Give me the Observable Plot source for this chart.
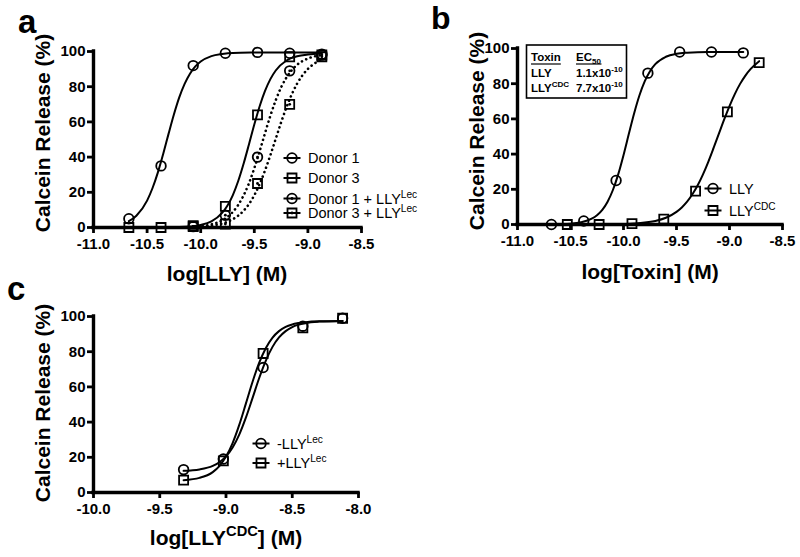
<!DOCTYPE html>
<html>
<head>
<meta charset="utf-8">
<script src="https://cdn.jsdelivr.net/npm/d3@7"></script>
<script src="https://cdn.jsdelivr.net/npm/@observablehq/plot@0.6"></script>
<style>
html,body{margin:0;padding:0;background:#fff;}
#fig{position:relative;width:800px;height:557px;overflow:hidden;background:#fff;}
#fig svg{position:absolute;overflow:visible;}
</style>
</head>
<body>
<div id="fig"></div>
<script>
const FONT = "'Liberation Sans', Arial, Helvetica, sans-serif";

// ---------- shared ticks ----------
const yTicks = [0, 20, 40, 60, 80, 100];
const xTicksA = [-11, -10.5, -10, -9.5, -9, -8.5];
const xTicksB = [-11, -10.5, -10, -9.5, -9, -8.5];
const xTicksC = [-10, -9.5, -9, -8.5, -8];

// ---------- panel a: measured points ----------
const logA = [-10.67, -10.37, -10.07, -9.77, -9.47, -9.17, -8.87];
const donor1 = [5, 35, 92, 99, 99.5, 99, 98.5];
const donor3 = [0, 0, 1, 12, 64, 97, 98];
const logALec = [-10.07, -9.77, -9.47, -9.17, -8.87];
const donor1Lec = [0.5, 7, 40, 89, 98];
const donor3Lec = [0.5, 2, 25, 70, 97];

// panel a: fitted curves
const fitXD1 = [-10.67, -10.6, -10.5, -10.45, -10.4, -10.35, -10.3, -10.25, -10.2, -10.15, -10.1, -10.05, -10.0, -9.9, -9.8, -9.7, -9.5, -9.2, -8.87];
const fitYD1 = [3.6, 6.7, 15.3, 22.3, 31.2, 41.8, 53.2, 64.2, 73.9, 81.6, 87.4, 91.5, 94.3, 97.4, 98.6, 99.2, 99.4, 99.5, 99.5];
const fitXD3 = [-10.67, -10.4, -10.2, -10.1, -10.0, -9.9, -9.8, -9.75, -9.7, -9.65, -9.6, -9.55, -9.5, -9.45, -9.4, -9.35, -9.3, -9.2, -9.1, -9.0, -8.87];
const fitYD3 = [0, 0.04, 0.23, 0.57, 1.41, 3.47, 8.28, 12.5, 18.45, 26.4, 36.2, 47.2, 58.5, 68.9, 77.6, 84.3, 89.2, 94.9, 97.3, 98.3, 98.8];
const fitXD1L = [-10.07, -9.9, -9.8, -9.7, -9.65, -9.6, -9.55, -9.5, -9.45, -9.4, -9.35, -9.3, -9.25, -9.2, -9.1, -9.0, -8.87];
const fitYD1L = [0.45, 1.82, 4.07, 8.85, 12.8, 18.2, 25.1, 33.7, 43.4, 53.6, 63.5, 72.3, 79.6, 85.2, 92.5, 96.0, 98.0];
const fitXD3L = [-10.07, -9.9, -9.8, -9.7, -9.6, -9.55, -9.5, -9.45, -9.4, -9.35, -9.3, -9.25, -9.2, -9.15, -9.1, -9.0, -8.95, -8.87];
const fitYD3L = [0.3, 1.07, 2.25, 4.69, 9.51, 13.3, 18.3, 24.7, 32.4, 41.1, 50.4, 59.7, 68.3, 75.7, 81.8, 90.1, 92.7, 95.5];

// ---------- panel b ----------
const logLLY = [-10.68, -10.375, -10.07, -9.77, -9.47, -9.17, -8.87];
const lly = [0, 2, 25, 86, 98, 98, 97.5];
const logCDC = [-10.53, -10.23, -9.92, -9.62, -9.32, -9.02, -8.72];
const cdc = [0, 0, 0.5, 3, 19, 64, 92];
const fitXLLY = [-10.68, -10.5, -10.4, -10.3, -10.25, -10.2, -10.15, -10.1, -10.05, -10.0, -9.95, -9.9, -9.85, -9.8, -9.75, -9.7, -9.6, -9.5, -9.4, -9.2, -8.87];
const fitYLLY = [0.08, 0.46, 1.24, 3.27, 5.25, 8.33, 12.96, 19.6, 28.5, 39.4, 51.4, 63.1, 73.3, 81.3, 87.1, 91.1, 95.3, 97.0, 97.6, 98.0, 98.0];
const fitXCDC = [-10.53, -10.3, -10.1, -9.9, -9.8, -9.7, -9.6, -9.5, -9.45, -9.4, -9.35, -9.3, -9.25, -9.2, -9.15, -9.1, -9.05, -9.0, -8.95, -8.9, -8.85, -8.8, -8.72];
const fitYCDC = [0.01, 0.04, 0.15, 0.56, 1.07, 2.04, 3.86, 7.19, 9.7, 12.97, 17.15, 22.3, 28.5, 35.65, 43.5, 51.6, 59.7, 67.3, 74.1, 79.9, 84.6, 88.4, 92.8];
const ecHeader = [[["Toxin"]], [["EC"], ["50", "sub"]]];
const ecToxins = [[["LLY"]], [["LLY"], ["CDC", "sup"]]];
const ecValues = [[["1.1x10"], ["-10", "sup"]], [["7.7x10"], ["-10", "sup"]]];

// ---------- panel c ----------
const logC = [-9.32, -9.02, -8.72, -8.42, -8.12];
const minusLec = [13, 19, 71, 94.5, 99];
const plusLec = [7, 18, 79, 93.5, 99];
const fitXC = [-9.32, -9.2, -9.1, -9.05, -9.0, -8.95, -8.9, -8.85, -8.8, -8.75, -8.7, -8.65, -8.6, -8.55, -8.5, -8.4, -8.3, -8.12];
const fitYMinus = [12.3, 13.1, 15.1, 17.2, 20.5, 25.6, 32.9, 42.5, 53.6, 64.9, 74.8, 82.6, 88.1, 91.7, 94.0, 96.3, 97.1, 97.5];
const fitYPlus = [7.0, 8.3, 11.6, 15.0, 20.4, 28.1, 38.4, 50.5, 62.8, 73.6, 82.0, 87.9, 91.7, 94.1, 95.5, 96.8, 97.3, 97.5];

// ---------- legends ----------
const legendA = [
  {label: [["Donor 1"]], symbol: "circle", dot: false},
  {label: [["Donor 3"]], symbol: "square", dot: false},
  {label: [["Donor 1 + LLY"], ["Lec", "sup"]], symbol: "circle", dot: true},
  {label: [["Donor 3 + LLY"], ["Lec", "sup"]], symbol: "square", dot: true}
];
const legendB = [
  {label: [["LLY"]], symbol: "circle", dot: false},
  {label: [["LLY"], ["CDC", "sup"]], symbol: "square", dot: false}
];
const legendC = [
  {label: [["-LLY"], ["Lec", "sup"]], symbol: "circle", dot: false},
  {label: [["+LLY"], ["Lec", "sup"]], symbol: "square", dot: false}
];

// ---------- helpers ----------
const fig = document.getElementById("fig");
const pts = (xs, ys) => xs.map((x, i) => ({x, y: ys[i]}));

const axisStyle = {tickSize: 6, strokeWidth: 2.8, fontSize: 15, fontWeight: "bold", label: null};
function axes(xTicks) {
  return [
    Plot.axisX(xTicks, {...axisStyle, tickPadding: 5, tickFormat: d => d.toFixed(1)}),
    Plot.axisY(yTicks, {...axisStyle, tickPadding: 2, tickFormat: d => String(d)}),
    Plot.ruleY([yTicks[0]], {x1: xTicks[0], x2: xTicks[xTicks.length - 1], strokeWidth: 3.4, strokeLinecap: "square"}),
    Plot.ruleX([xTicks[0]], {y1: yTicks[0], y2: yTicks[yTicks.length - 1], strokeWidth: 3.4, strokeLinecap: "square"})
  ];
}
const solid = (xs, ys) => Plot.line(pts(xs, ys), {x: "x", y: "y", curve: "monotone-x", stroke: "black", strokeWidth: 2});
const dotted = (xs, ys) => Plot.line(pts(xs, ys), {x: "x", y: "y", curve: "monotone-x", stroke: "black", strokeWidth: 2.6, strokeDasharray: "0.1 4.6", strokeLinecap: "round"});
function syms(xs, ys, symbol, withDot) {
  const d = pts(xs, ys);
  const m = [Plot.dot(d, {x: "x", y: "y", symbol, r: symbol === "square" ? 5.1 : 4.8, stroke: "black", strokeWidth: 1.8, fill: "none"})];
  if (withDot) m.push(Plot.dot(d, {x: "x", y: "y", r: 1.4, fill: "black", stroke: "none"}));
  return m;
}

function panel({left, top, width, height, xTicks, mL, mR, mT, mB, marks}) {
  const svg = Plot.plot({
    width, height,
    marginLeft: mL, marginRight: mR, marginTop: mT, marginBottom: mB,
    x: {domain: [xTicks[0], xTicks[xTicks.length - 1]]},
    y: {domain: [yTicks[0], yTicks[yTicks.length - 1]]},
    style: {fontFamily: FONT, fontSize: "15px", fontWeight: "bold", background: "none", color: "black", overflow: "visible"},
    marks: [...axes(xTicks), ...marks]
  });
  svg.style.position = "absolute";
  svg.style.left = left + "px";
  svg.style.top = top + "px";
  fig.appendChild(svg);
}

// ---------- panel a ----------
panel({
  left: 0, top: 0, width: 400, height: 300, xTicks: xTicksA, mL: 93, mR: 39, mT: 51, mB: 73,
  marks: [
    solid(fitXD1, fitYD1), solid(fitXD3, fitYD3),
    dotted(fitXD1L, fitYD1L), dotted(fitXD3L, fitYD3L),
    ...syms(logA, donor1, "circle", false), ...syms(logA, donor3, "square", false),
    ...syms(logALec, donor1Lec, "circle", true), ...syms(logALec, donor3Lec, "square", true)
  ]
});

// ---------- panel b ----------
panel({
  left: 400, top: 0, width: 400, height: 300, xTicks: xTicksB, mL: 117, mR: 18, mT: 48, mB: 76,
  marks: [
    solid(fitXLLY, fitYLLY), solid(fitXCDC, fitYCDC),
    ...syms(logLLY, lly, "circle", false), ...syms(logCDC, cdc, "square", false)
  ]
});

// ---------- panel c ----------
panel({
  left: 0, top: 280, width: 400, height: 277, xTicks: xTicksC, mL: 93, mR: 42, mT: 36, mB: 65,
  marks: [
    solid(fitXC, fitYMinus), solid(fitXC, fitYPlus),
    ...syms(logC, minusLec, "circle", false), ...syms(logC, plusLec, "square", false)
  ]
});

// ---------- annotation overlay (titles, letters, legends, EC50 box) ----------
const ov = d3.create("svg").attr("width", 800).attr("height", 557).attr("font-family", FONT)
  .style("left", "0px").style("top", "0px").style("pointer-events", "none");
fig.appendChild(ov.node());

function rich(x, y, segs, size, {weight = "normal", anchor = "start", rotate = 0} = {}) {
  const t = ov.append("text").attr("font-size", size).attr("font-weight", weight)
    .attr("text-anchor", anchor).attr("fill", "black")
    .attr("transform", `translate(${x},${y}) rotate(${rotate})`);
  let shift = 0;
  for (const [str, kind] of segs) {
    const fs = kind ? size * 0.7 : size;
    const target = kind === "sup" ? -size * 0.42 : kind === "sub" ? size * 0.22 : 0;
    t.append("tspan").attr("font-size", fs).attr("dy", target - shift).text(str);
    shift = target;
  }
  return t;
}

// panel letters
rich(18, 33, [["a"]], 33, {weight: "bold"});
rich(431, 29, [["b"]], 32, {weight: "bold"});
rich(7, 300, [["c"]], 33, {weight: "bold"});

// axis titles
const yTitle = [["Calcein Release (%)"]];
rich(50, 133, yTitle, 21, {weight: "bold", anchor: "middle", rotate: -90});
rich(484, 131, yTitle, 21, {weight: "bold", anchor: "middle", rotate: -90});
rich(50, 403, yTitle, 21, {weight: "bold", anchor: "middle", rotate: -90});
rich(227, 281, [["log[LLY] (M)"]], 21, {weight: "bold", anchor: "middle"});
rich(650, 279, [["log[Toxin] (M)"]], 21, {weight: "bold", anchor: "middle"});
rich(226, 545, [["log[LLY"], ["CDC", "sup"], ["] (M)"]], 21, {weight: "bold", anchor: "middle"});

// legends
function glyph(cx, cy, symbol, dot) {
  ov.append("line").attr("x1", cx - 8.5).attr("x2", cx + 8.5).attr("y1", cy).attr("y2", cy)
    .attr("stroke", "black").attr("stroke-width", 2);
  const p = symbol === "square" ? d3.symbol(d3.symbolSquare, 81)() : d3.symbol(d3.symbolCircle, Math.PI * 4.8 * 4.8)();
  ov.append("path").attr("d", p).attr("transform", `translate(${cx},${cy})`)
    .attr("fill", "none").attr("stroke", "black").attr("stroke-width", 1.8);
  if (dot) ov.append("circle").attr("cx", cx).attr("cy", cy).attr("r", 1.4).attr("fill", "black");
}
function legend(items, sx, tx, rows) {
  items.forEach((it, i) => {
    glyph(sx, rows[i], it.symbol, it.dot);
    rich(tx, rows[i] + 5.2, it.label, 14.5);
  });
}
legend(legendA, 292, 308, [158, 178, 198.5, 213]);
legend(legendB, 713, 729, [188.5, 210.5]);
legend(legendC, 261, 277, [443.5, 463]);

// EC50 box
ov.append("rect").attr("x", 526.5).attr("y", 45).attr("width", 100).attr("height", 53)
  .attr("fill", "none").attr("stroke", "black").attr("stroke-width", 1.6);
const colX = [531, 576];
ecHeader.forEach((segs, j) => {
  const h = rich(colX[j], 61, segs, 11.5, {weight: "bold"});
  const w = h.node().getBBox().width;
  ov.append("line").attr("x1", colX[j]).attr("x2", colX[j] + w).attr("y1", 64).attr("y2", 64)
    .attr("stroke", "black").attr("stroke-width", 1.2);
});
ecToxins.forEach((segs, i) => rich(colX[0], 77 + i * 14.5, segs, 11.5, {weight: "bold"}));
ecValues.forEach((segs, i) => rich(colX[1], 77 + i * 14.5, segs, 11.5, {weight: "bold"}));
</script>
</body>
</html>
